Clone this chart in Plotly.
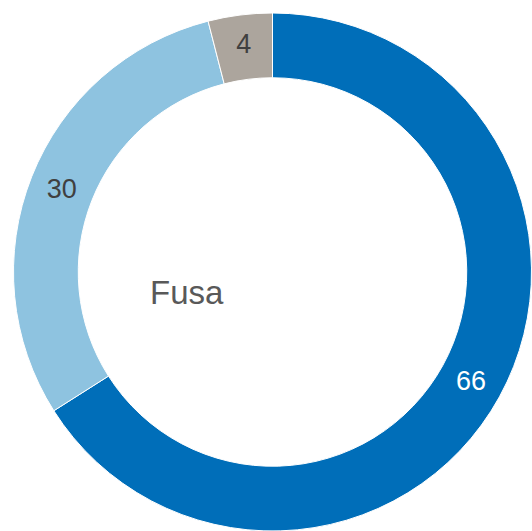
import plotly.graph_objects as go

labels = ["A", "B", "C"]
values = [66, 30, 4]
colors = ["#006EB9", "#8EC3E0", "#ACA59D"]
text_colors = ["#FFFFFF", "#404040", "#404040"]
center_label = "Fusa"

fig = go.Figure(go.Pie(
    labels=labels,
    values=values,
    hole=0.75,
    sort=False,
    direction="clockwise",
    rotation=0,
    marker=dict(colors=colors, line=dict(color="#FFFFFF", width=1)),
    textinfo="value",
    textposition="inside",
    insidetextorientation="horizontal",
    insidetextfont=dict(color=text_colors, size=27, family="Liberation Sans, Arial, sans-serif"),
    domain=dict(x=[13/532, 532/532], y=[0, 1 - 13/531]),
    showlegend=False,
    hoverinfo="skip",
))

fig.add_annotation(
    text=center_label, x=187/532, y=1 - 292/531, xref="paper", yref="paper",
    showarrow=False, xanchor="center", yanchor="middle",
    font=dict(size=33, color="#595959", family="Liberation Sans, Arial, sans-serif"),
)

fig.update_layout(
    width=532, height=531,
    margin=dict(l=0, r=0, t=0, b=0),
    paper_bgcolor="#FFFFFF", plot_bgcolor="#FFFFFF",
)

fig.write_html(
    "out.html",
    config={"displayModeBar": False, "staticPlot": True},
    post_script="document.body.style.margin='0';document.body.style.overflow='hidden';",
)
